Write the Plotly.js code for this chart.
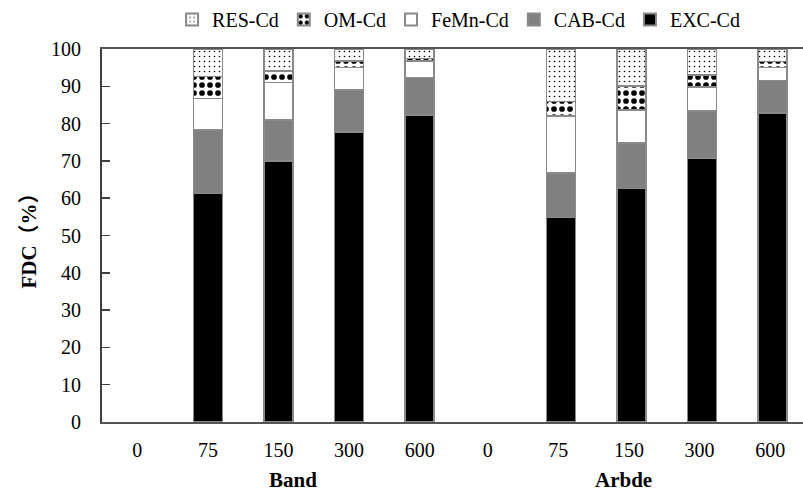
<!DOCTYPE html>
<html>
<head>
<meta charset="utf-8">
<script src="https://cdn.plot.ly/plotly-3.0.1.min.js"></script>
<style>html,body{margin:0;padding:0;background:#fff;}#chart{width:803px;height:493px;}</style>
</head>
<body>
<div id="chart"></div>
<script>
// Categories (rates) for each group
const categories = ['0', '75', '150', '300', '600', '0 ', '75 ', '150 ', '300 ', '600 '];
const groups = ['Band', 'Arbde'];

// Fractions of Cd (%) for each category: Band 0,75,150,300,600 then Arbde 0,75,150,300,600
const excCd  = [0, 61.2, 70.0, 77.8, 82.3, 0, 54.8, 62.6, 70.8, 82.8];
const cabCd  = [0, 17.1, 11.0, 11.2, 10.0, 0, 12.0, 12.2, 12.6, 8.8];
const femnCd = [0, 8.4, 10.0, 6.0, 4.5, 0, 15.2, 8.9, 6.4, 3.4];
const omCd   = [0, 5.9, 3.1, 1.8, 0.7, 0, 3.9, 6.4, 3.2, 1.6];
const resCd  = [0, 7.4, 5.9, 3.2, 2.5, 0, 14.1, 9.9, 7.0, 3.4];

const yTicks = [0, 10, 20, 30, 40, 50, 60, 70, 80, 90, 100];

const FONT = '"Liberation Serif", "Times New Roman", serif';
const outline = vals => ({color: '#8a8a8a', width: vals.map(v => (v > 0 ? 1.5 : 0))});

const traces = [
  {name: 'EXC-Cd', y: excCd, marker: {color: '#000000', line: outline(excCd)}},
  {name: 'CAB-Cd', y: cabCd, marker: {color: '#808080', line: outline(cabCd)}},
  {name: 'FeMn-Cd', y: femnCd, marker: {color: '#ffffff', line: outline(femnCd)}},
  {name: 'OM-Cd', y: omCd, marker: {color: '#ffffff', line: outline(omCd),
     pattern: {shape: '.', fgcolor: '#000000', bgcolor: '#ffffff', size: 8, solidity: 0.4, fillmode: 'replace'}}},
  {name: 'RES-Cd', y: resCd, marker: {color: '#ffffff', line: outline(resCd),
     pattern: {shape: '.', fgcolor: '#000000', bgcolor: '#ffffff', size: 5, solidity: 0.08, fillmode: 'replace'}}}
].map(t => Object.assign({type: 'bar', x: categories, hoverinfo: 'skip'}, t));

const layout = {
  width: 803, height: 493,
  margin: {l: 102, r: 0, t: 48, b: 71, pad: 0},
  barmode: 'stack',
  bargap: 0.59,
  paper_bgcolor: '#ffffff', plot_bgcolor: '#ffffff',
  font: {family: FONT, size: 20, color: '#000000'},
  showlegend: true,
  legend: {orientation: 'h', traceorder: 'reversed', x: 0.1, xanchor: 'left', y: 1.13, yanchor: 'top',
           font: {family: FONT, size: 20, color: '#000000'}, itemwidth: 30, itemsizing: 'constant'},
  xaxis: {type: 'category', range: [-0.5, 9.43], showline: true, linecolor: '#555555', linewidth: 2,
          mirror: true, ticks: '', showgrid: false, zeroline: false, ticklabelstandoff: 9,
          tickfont: {family: FONT, size: 20, color: '#000000'}},
  yaxis: {range: [0, 100], tickvals: yTicks, ticktext: yTicks.map(String), showline: true,
          linecolor: '#404040', linewidth: 2, ticks: 'inside', ticklen: 8, tickcolor: '#404040', tickwidth: 1.5,
          showgrid: false, zeroline: false, ticklabelstandoff: 15,
          tickfont: {family: FONT, size: 20, color: '#000000'},
          title: {text: '<b>FDC（%）</b>', standoff: 9, font: {family: FONT + ', "Noto Sans CJK SC"', size: 21, color: '#000000'}}},
  annotations: [
    {text: '<b>' + groups[0] + '</b>', xref: 'x', yref: 'paper', x: 2.2, y: -0.155, showarrow: false,
     xanchor: 'center', yanchor: 'middle', font: {family: FONT, size: 21, color: '#000000'}},
    {text: '<b>' + groups[1] + '</b>', xref: 'x', yref: 'paper', x: 6.89, y: -0.155, showarrow: false,
     xanchor: 'center', yanchor: 'middle', font: {family: FONT, size: 21, color: '#000000'}}
  ]
};

Plotly.newPlot('chart', traces, layout, {displayModeBar: false, staticPlot: true});
</script>
</body>
</html>
